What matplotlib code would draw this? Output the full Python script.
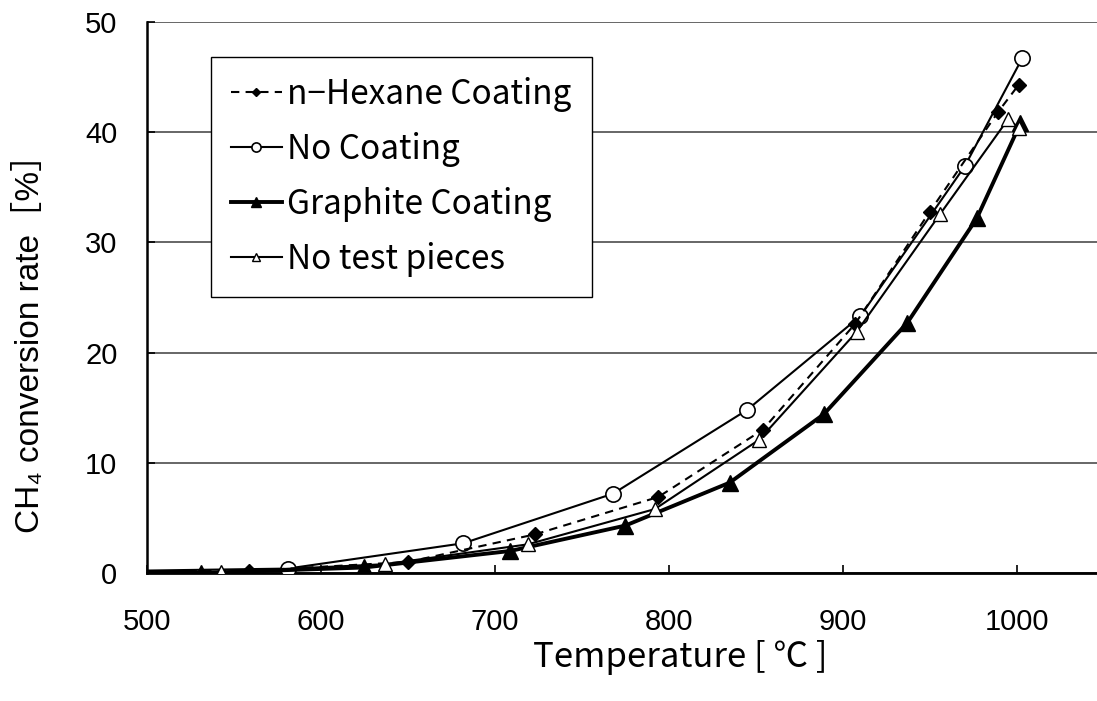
import matplotlib
matplotlib.use("Agg")
import matplotlib.pyplot as plt

plt.rcParams["font.family"] = ["Liberation Sans", "Noto Sans CJK JP", "DejaVu Sans"]
plt.rcParams["font.size"] = 21

# data (first point is off-axis start at 0 %)
hexane_x = [400, 559, 650, 723, 794, 854, 907, 950, 989, 1001]
hexane_y = [0, 0.2, 1.0, 3.5, 6.9, 13.0, 22.6, 32.8, 41.8, 44.3]

nocoat_x = [400, 581, 682, 768, 845, 910, 970, 1003]
nocoat_y = [0, 0.4, 2.7, 7.2, 14.8, 23.3, 36.9, 46.7]

graphite_x = [400, 531, 625, 709, 775, 835, 889, 937, 977, 1002]
graphite_y = [0, 0.0, 0.5, 2.0, 4.3, 8.2, 14.4, 22.7, 32.2, 40.8]

notest_x = [400, 543, 637, 719, 792, 852, 908, 956, 995, 1001]
notest_y = [0, 0.1, 0.8, 2.6, 5.8, 12.1, 21.9, 32.6, 41.2, 40.4]

x_ticks = [500, 600, 700, 800, 900, 1000]
y_ticks = [0, 10, 20, 30, 40, 50]

fig = plt.figure(figsize=(10.97, 7.01), dpi=100)
ax = fig.add_axes([0.1336, 0.1826, 0.8664, 0.786])

ax.plot(hexane_x, hexane_y, color="black", linestyle=(0, (4, 3)), linewidth=1.5,
        marker="D", markersize=7, markerfacecolor="black", markeredgecolor="black",
        label="n\u2212Hexane Coating", zorder=4)
ax.plot(nocoat_x, nocoat_y, color="black", linewidth=1.5,
        marker="o", markersize=11, markerfacecolor="white", markeredgecolor="black",
        markeredgewidth=1.2, label="No Coating", zorder=3)
ax.plot(graphite_x, graphite_y, color="black", linewidth=2.8,
        marker="^", markersize=11, markerfacecolor="black", markeredgecolor="black",
        label="Graphite Coating", zorder=4)
ax.plot(notest_x, notest_y, color="black", linewidth=1.5,
        marker="^", markersize=10, markerfacecolor="white", markeredgecolor="black",
        markeredgewidth=1.0, label="No test pieces", zorder=5)

ax.set_xlim(500, 1046)
ax.set_ylim(0, 50)
ax.set_xticks(x_ticks)
ax.set_yticks(y_ticks)
ax.tick_params(axis="both", direction="in", length=6, width=1.2, labelsize=21,
               colors="black")
ax.tick_params(axis="x", pad=25)
ax.tick_params(axis="y", pad=21)

ax.yaxis.grid(True, color="#4d4d4d", linewidth=1.2)
ax.set_axisbelow(True)
for s in ["top", "right"]:
    ax.spines[s].set_visible(False)
ax.spines["left"].set_linewidth(1.8)
ax.spines["bottom"].set_linewidth(2.0)

ax.set_xlabel("Temperature [ \u2103 ]", family=["Noto Sans CJK JP", "DejaVu Sans"],
              fontsize=25, labelpad=3, x=0.561)
ax.set_ylabel("CH\u2084 conversion rate\uff3b%\uff3d",
              family=["Liberation Sans", "Noto Sans CJK JP", "DejaVu Sans"],
              fontsize=24, labelpad=28, y=0.432)

leg = ax.legend(loc="upper left", bbox_to_anchor=(0.192, 0.919),
                bbox_transform=fig.transFigure, frameon=True, fancybox=False,
                edgecolor="black", framealpha=1, borderaxespad=0,
                handlelength=1.55, handletextpad=0.15, labelspacing=0.6,
                borderpad=0.6, markerscale=0.6,
                prop={"family": ["Noto Sans CJK JP", "DejaVu Sans"], "size": 24})
leg.get_frame().set_linewidth(1.0)

fig.savefig("out.png", dpi=100)
